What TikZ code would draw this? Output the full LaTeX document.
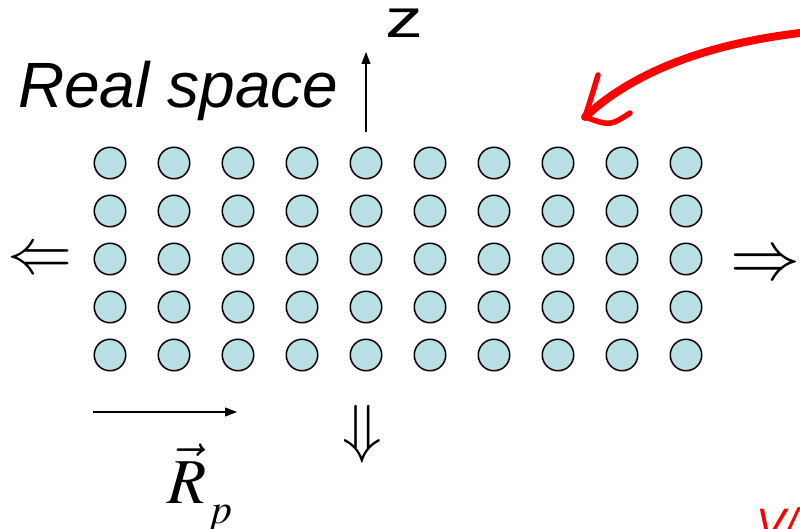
\documentclass[tikz,border=0pt]{standalone}
\usepackage{mathptmx}
\usepackage[no-math]{fontspec}
\setmainfont{Liberation Sans}
\usetikzlibrary{arrows.meta}
\definecolor{atomfill}{HTML}{B9E0E4}
\definecolor{inkred}{HTML}{FF0000}
\tikzset{
  atom/.style   = {circle, draw=black, fill=atomfill, line width=1.5pt,
                   minimum size=31.5pt, inner sep=0pt},
  axis/.style   = {-{Triangle[length=12pt,width=9pt]}, line width=1.3pt},
  bigsym/.style = {inner sep=0pt, font=\fontsize{#1}{#1}\selectfont},
  pen/.style    = {draw=inkred, line cap=round, line join=round, line width=#1},
}

\begin{document}
\begin{tikzpicture}[x=1pt,y=-1pt]
  \useasboundingbox (0,0) rectangle (800,529);
  \foreach \i in {0,...,9}
    \foreach \j in {0,...,4}
      \node[atom] (a-\i-\j) at (110+64*\i, 163+48*\j) {};
  \node[bigsym=64, anchor=base west] (title) at (18,108) {\itshape Real space};
  \node[bigsym=54, anchor=base west] (zlab) at (385,38) {\scalebox{1.4}[1]{\upshape z}};
  \coordinate (zfoot) at (366,132);
  \coordinate (ztip) at (366,52);
  \draw[axis] (zfoot) -- (ztip);
  \node[bigsym=65] (west) at (40,262) {$\Leftarrow$};
  \node[bigsym=70] (east) at (765,267) {$\Rightarrow$};
  \node[bigsym=65] (south) at (362,434) {$\Downarrow$};
  \coordinate (rfoot) at (93,412);
  \coordinate (rtip) at (237,412);
  \draw[axis] (rfoot) -- (rtip);
  \node[bigsym=64, anchor=base west] (rp) at (167,503)
    {$\vec{R}$\hspace{2pt}\raisebox{-20pt}{\fontsize{42}{42}\selectfont$p$}};
  \coordinate (pstart) at (800,33);
  \coordinate (ptip) at (585,117);
  \coordinate (barb1) at (598,75);
  \coordinate (barb2) at (630,113);
  \draw[pen=8pt] (pstart) .. controls (700,45) and (630,75) .. (ptip);
  \draw[pen=5.5pt] (barb1) .. controls (592,95) .. (ptip) .. controls (610,126) .. (barb2);
  \begin{scope}
    \clip (0,0) rectangle (800,529);
    \node[bigsym=44, anchor=base west, text=inkred] (cut) at (756,539) {\itshape V/};
  \end{scope}
\end{tikzpicture}
\end{document}
